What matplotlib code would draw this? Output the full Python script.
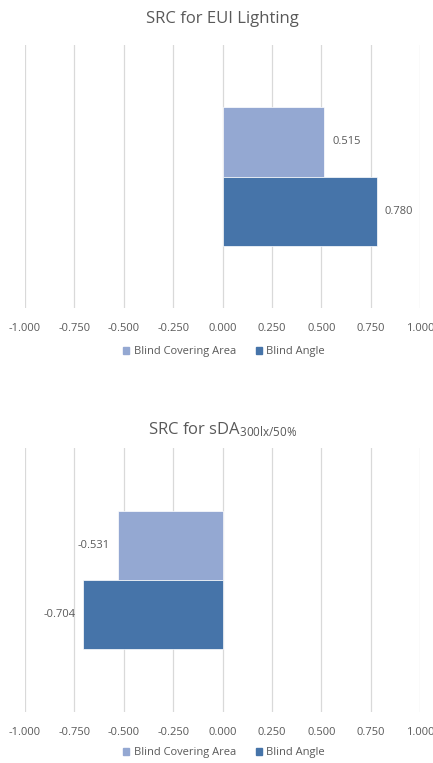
import matplotlib.pyplot as plt
import matplotlib.patches as patches

plt.rcParams["font.family"] = ["Open Sans", "DejaVu Sans"]
plt.rcParams["mathtext.default"] = "regular"

# data
series = ["Blind Covering Area", "Blind Angle"]
colors = ["#94A8D2", "#4674A9"]
eui_values = [0.515, 0.780]
sda_values = [-0.531, -0.704]
ticks = [-1.0, -0.75, -0.5, -0.25, 0.0, 0.25, 0.5, 0.75, 1.0]
tick_labels = ["%.3f" % t for t in ticks]

text_col = "#595959"
grid_col = "#D9D9D9"

W, H = 433, 763
fig = plt.figure(figsize=(W / 100, H / 100), dpi=100)
fig.patch.set_facecolor("white")


def px_axes(left, top, right, bottom):
    return fig.add_axes([left / W, 1 - bottom / H, (right - left) / W, (bottom - top) / H])


def draw_panel(ax, values, title, title_y, legend_y):
    bh = 0.2625
    offsets = [bh / 2, -bh / 2]
    for v, off, c, name in zip(values, offsets, colors, series):
        ax.barh(off, v, height=bh, color=c, edgecolor="white", linewidth=0.5, label=name, zorder=3)
        if v >= 0:
            ax.text(v + 0.04, off, "%.3f" % v, ha="left", va="center", fontsize=8, color=text_col)
        else:
            ax.text(v - 0.04, off, "%.3f" % v, ha="right", va="center", fontsize=8, color=text_col)
    ax.set_xlim(-1.0, 1.0)
    ax.set_ylim(-0.5, 0.5)
    ax.set_xticks(ticks)
    ax.set_xticklabels(tick_labels, fontsize=8, color=text_col)
    ax.set_yticks([])
    ax.tick_params(axis="x", length=0, pad=11)
    for s in ax.spines.values():
        s.set_visible(False)
    ax.grid(axis="x", color=grid_col, linewidth=0.9, zorder=0)
    fig.text(222.5 / W, 1 - title_y / H, title, ha="center", va="center", fontsize=12, color=text_col)
    handles = [patches.Patch(color=c) for c in colors]
    fig.legend(handles, series, loc="center", bbox_to_anchor=(224 / W, 1 - legend_y / H),
               ncol=2, frameon=False, fontsize=8, labelcolor=text_col,
               handlelength=0.55, handleheight=0.55, handletextpad=0.4, columnspacing=1.8)


ax1 = px_axes(25, 45, 420, 308)
draw_panel(ax1, eui_values, "SRC for EUI Lighting", 19, 352)

ax2 = px_axes(25, 448, 420, 712)
draw_panel(ax2, sda_values, "SRC for sDA$_{300lx/50\\%}$", 430, 753)

plt.savefig("out.png", dpi=100)
